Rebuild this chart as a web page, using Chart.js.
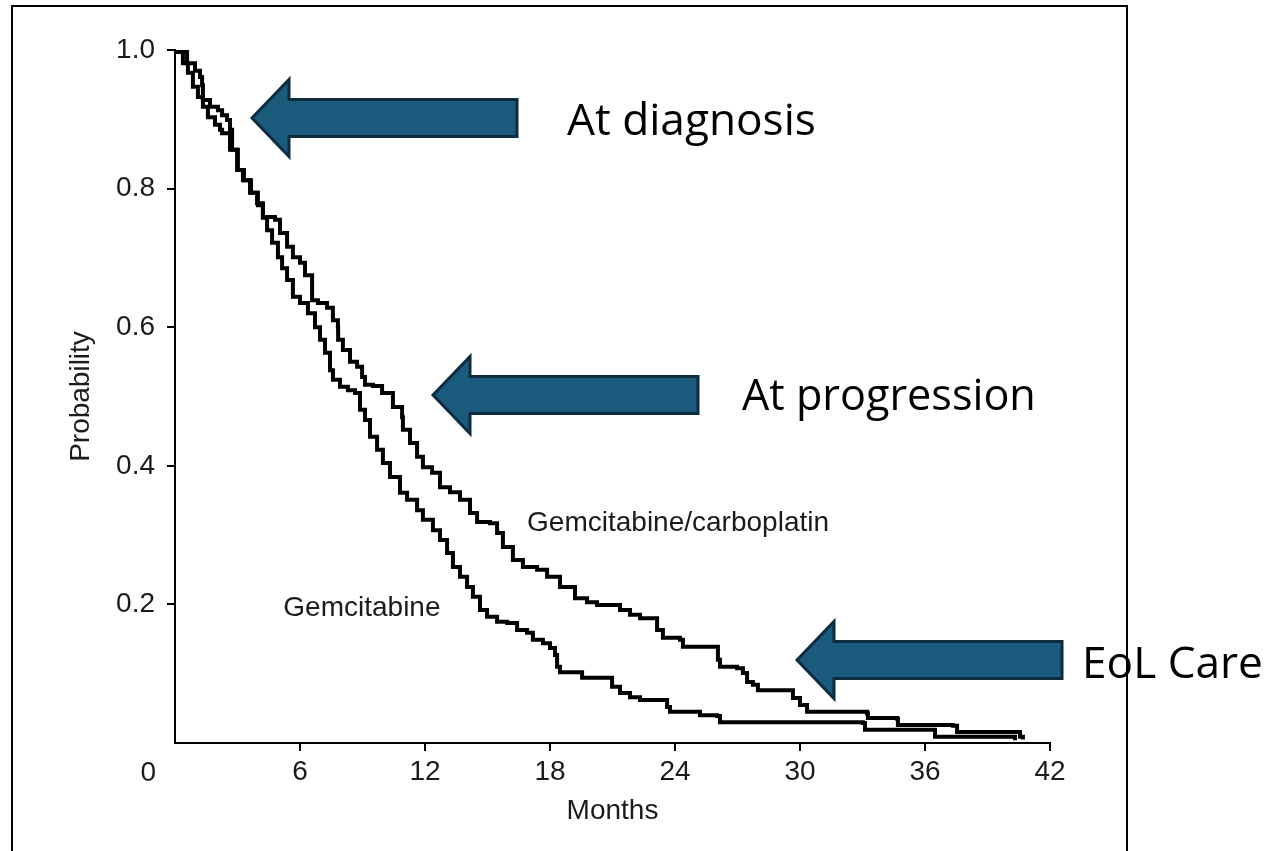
<!DOCTYPE html>
<html>
<head>
<meta charset="utf-8">
<script src="https://cdn.jsdelivr.net/npm/chart.js@4.4.1/dist/chart.umd.min.js"></script>
<style>
  html, body { margin: 0; padding: 0; background: #fff; }
  canvas { display: block; }
</style>
</head>
<body>
<canvas id="km-chart" width="1270" height="851"></canvas>
<script>
// Kaplan-Meier steps (months, probability)
const carboMonths = [0, 0.10, 0.38, 0.62, 0.86, 1.10, 1.34, 1.58, 1.92, 2.16, 2.26, 2.64, 2.98, 3.26, 3.60, 3.94, 4.22,
  4.80, 5.04, 5.38, 5.66, 6.00, 6.24, 6.58, 6.86, 7.30, 7.58, 7.82, 7.83, 8.06, 8.40, 8.74, 8.98, 9.12, 9.50, 9.94,
  10.46, 10.90, 10.94, 11.28, 11.62, 11.90, 12.34, 12.72, 13.20, 13.68, 14.16, 14.50, 15.12, 15.46, 15.74, 16.22,
  16.70, 17.38, 17.86, 18.48, 19.20, 19.78, 20.26, 21.02, 21.36, 21.84, 22.32, 22.94, 23.14, 23.42, 24.24, 24.38,
  25.82, 26.06, 26.16, 26.98, 27.26, 27.46, 27.74, 27.98, 29.52, 29.66, 30.00, 30.34, 33.22, 33.26, 34.66, 34.70,
  37.34, 37.54, 40.42, 40.56, 40.70];
const carboSurv = [1.0, 0.997, 0.981, 0.967, 0.947, 0.932, 0.918, 0.903, 0.892, 0.885, 0.880, 0.856, 0.827, 0.812,
  0.794, 0.779, 0.759, 0.755, 0.736, 0.716, 0.701, 0.693, 0.675, 0.639, 0.635, 0.628, 0.610, 0.600, 0.582, 0.567,
  0.550, 0.543, 0.528, 0.517, 0.515, 0.505, 0.485, 0.470, 0.452, 0.433, 0.413, 0.398, 0.390, 0.369, 0.362, 0.351,
  0.332, 0.319, 0.317, 0.303, 0.283, 0.264, 0.254, 0.250, 0.240, 0.225, 0.209, 0.203, 0.199, 0.199, 0.192, 0.185,
  0.180, 0.180, 0.163, 0.152, 0.149, 0.139, 0.139, 0.120, 0.110, 0.108, 0.101, 0.088, 0.084, 0.076, 0.076, 0.065,
  0.055, 0.045, 0.043, 0.036, 0.035, 0.026, 0.025, 0.016, 0.016, 0.009, 0.005];

const gemMonths = [0, 0.14, 0.58, 0.96, 1.20, 1.30, 1.34, 1.68, 2.06, 2.26, 2.50, 2.64, 2.74, 3.02, 3.31, 3.65, 3.98,
  4.22, 4.42, 4.66, 4.94, 5.14, 5.38, 5.66, 6.00, 6.38, 6.72, 6.96, 7.20, 7.44, 7.58, 7.92, 8.30, 8.64, 8.88, 9.12,
  9.36, 9.70, 9.98, 10.32, 10.80, 11.14, 11.62, 11.90, 12.38, 12.72, 13.06, 13.34, 13.68, 14.02, 14.30, 14.64,
  14.98, 15.46, 15.94, 16.42, 16.90, 17.18, 17.66, 18.00, 18.24, 18.34, 18.48, 19.34, 19.54, 20.74, 20.98, 21.36,
  21.84, 22.32, 23.62, 23.76, 25.06, 25.20, 26.02, 26.16, 33.02, 33.12, 36.38, 36.48, 39.60, 40.32];
const gemSurv = [1.0, 0.997, 0.981, 0.970, 0.961, 0.949, 0.928, 0.918, 0.913, 0.906, 0.899, 0.885, 0.856, 0.827,
  0.812, 0.794, 0.776, 0.758, 0.740, 0.722, 0.701, 0.685, 0.668, 0.644, 0.635, 0.620, 0.600, 0.582, 0.563, 0.538,
  0.524, 0.514, 0.509, 0.505, 0.481, 0.466, 0.442, 0.423, 0.404, 0.384, 0.361, 0.351, 0.336, 0.322, 0.307, 0.293,
  0.274, 0.254, 0.240, 0.225, 0.211, 0.192, 0.182, 0.175, 0.173, 0.163, 0.159, 0.149, 0.144, 0.137, 0.127, 0.110,
  0.102, 0.102, 0.094, 0.094, 0.081, 0.072, 0.066, 0.062, 0.052, 0.045, 0.045, 0.040, 0.039, 0.030, 0.029, 0.019,
  0.019, 0.009, 0.009, 0.004];

const xTickStep = 6;     // 0, 6, 12 ... 42 months
const xMax = 42;
const yTickStep = 0.2;   // 0, 0.2 ... 1.0

const seriesNames = ['Gemcitabine/carboplatin', 'Gemcitabine'];
// where the curve names sit, in data units (months, probability)
const seriesLabelAt = [[16.9, 0.317], [5.2, 0.194]];

const callouts = [
  {text: 'At diagnosis', tip: 252, end: 517, cy: 118, textX: 567, base: 135, width: 249},
  {text: 'At progression', tip: 433, end: 698, cy: 395, textX: 742, base: 410, width: 294},
  {text: 'EoL Care', tip: 797, end: 1062, cy: 660, textX: 1082, base: 678, width: 181}
];

const axisFont = {family: '"Liberation Sans", Arial, sans-serif', size: 28};
const ink = '#1b1b1b';

const toPoints = (xs, ys) => xs.map((x, i) => ({x: x, y: ys[i]}));
const hideZero = (ctx) => (ctx.tick && ctx.tick.value === 0) ? 'rgba(0,0,0,0)' : '#000';

const overlay = {
  id: 'overlay',
  afterDraw(chart) {
    const ctx = chart.ctx;
    const xs = chart.scales.x, ys = chart.scales.y;
    ctx.save();

    // curve names
    ctx.fillStyle = ink;
    ctx.font = axisFont.size + 'px ' + axisFont.family;
    ctx.textBaseline = 'middle';
    ctx.textAlign = 'left';
    seriesNames.forEach((name, i) => {
      ctx.fillText(name, xs.getPixelForValue(seriesLabelAt[i][0]), ys.getPixelForValue(seriesLabelAt[i][1]));
    });
    // shared origin label
    ctx.textAlign = 'right';
    ctx.fillText('0', 156, 773);

    // call-out arrows
    callouts.forEach(c => {
      const head = 37, halfHead = 38.5, halfShaft = 18.5;
      ctx.beginPath();
      ctx.moveTo(c.tip, c.cy);
      ctx.lineTo(c.tip + head, c.cy - halfHead);
      ctx.lineTo(c.tip + head, c.cy - halfShaft);
      ctx.lineTo(c.end, c.cy - halfShaft);
      ctx.lineTo(c.end, c.cy + halfShaft);
      ctx.lineTo(c.tip + head, c.cy + halfShaft);
      ctx.lineTo(c.tip + head, c.cy + halfHead);
      ctx.closePath();
      ctx.fillStyle = '#1a5b7d';
      ctx.fill();
      ctx.lineWidth = 3;
      ctx.lineJoin = 'miter';
      ctx.strokeStyle = '#0d2c40';
      ctx.stroke();

      ctx.fillStyle = '#000';
      ctx.textAlign = 'left';
      ctx.textBaseline = 'alphabetic';
      ctx.font = '40px "Open Sans", sans-serif';
      const size = 40 * c.width / ctx.measureText(c.text).width;
      ctx.font = size.toFixed(1) + 'px "Open Sans", sans-serif';
      ctx.fillText(c.text, c.textX, c.base);
    });

    // outer frame
    ctx.strokeStyle = '#000';
    ctx.lineWidth = 2;
    ctx.beginPath();
    ctx.moveTo(12, 851);
    ctx.lineTo(12, 6);
    ctx.lineTo(1127, 6);
    ctx.lineTo(1127, 851);
    ctx.stroke();
    ctx.restore();
  }
};

const lineStyle = {
  borderColor: '#000',
  borderWidth: 4,
  pointRadius: 0,
  stepped: true,
  fill: false
};

new Chart(document.getElementById('km-chart'), {
  type: 'line',
  data: {
    datasets: [
      Object.assign({label: seriesNames[0], data: toPoints(carboMonths, carboSurv)}, lineStyle),
      Object.assign({label: seriesNames[1], data: toPoints(gemMonths, gemSurv)}, lineStyle)
    ]
  },
  options: {
    responsive: false,
    animation: false,
    devicePixelRatio: 1,
    layout: {padding: {top: 50, right: 220, bottom: 0, left: 0}},
    plugins: {legend: {display: false}, tooltip: {enabled: false}},
    scales: {
      x: {
        type: 'linear',
        min: 0,
        max: xMax,
        afterFit: (s) => { s.height = 108; },
        ticks: {
          stepSize: xTickStep,
          autoSkip: false,
          maxRotation: 0,
          padding: 4,
          color: ink,
          font: axisFont,
          callback: (v) => v === 0 ? '' : v
        },
        grid: {drawOnChartArea: false, tickLength: 8, lineWidth: 2, color: hideZero, tickColor: hideZero},
        border: {display: true, color: '#000', width: 2},
        title: {display: true, text: 'Months', color: ink, font: axisFont, padding: {top: 0, bottom: 23}}
      },
      y: {
        min: 0,
        max: 1,
        afterFit: (s) => { s.width = 175; },
        ticks: {
          stepSize: yTickStep,
          padding: 12,
          color: ink,
          font: axisFont,
          callback: (v) => v === 0 ? '' : v.toFixed(1)
        },
        grid: {drawOnChartArea: false, tickLength: 8, lineWidth: 2, color: hideZero, tickColor: hideZero},
        border: {display: true, color: '#000', width: 2},
        title: {display: true, text: 'Probability', color: ink, font: axisFont, padding: {top: 64, bottom: 0}}
      }
    }
  },
  plugins: [overlay]
});
</script>
</body>
</html>
